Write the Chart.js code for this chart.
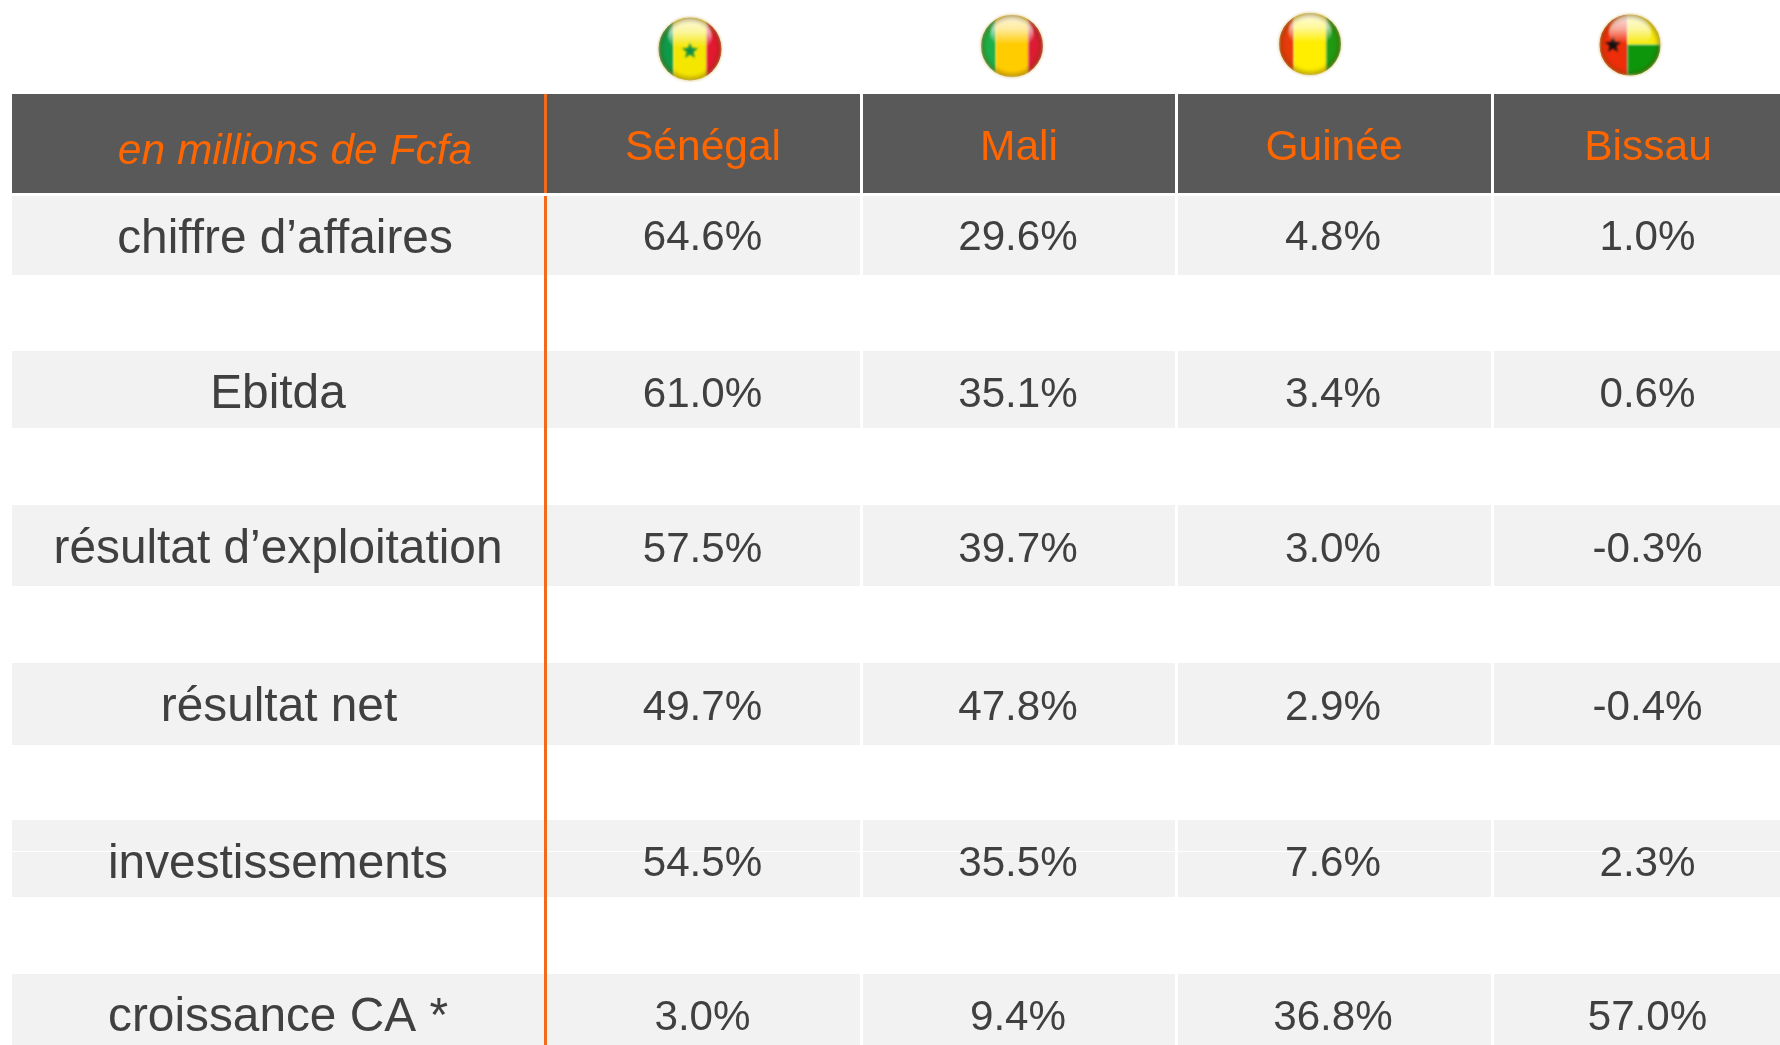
<!DOCTYPE html>
<html lang="fr">
<head>
<meta charset="utf-8">
<title>Répartition par pays</title>
<style>html,body{margin:0;padding:0;background:#fff}canvas{display:block}</style>
<script src="https://cdn.jsdelivr.net/npm/chart.js@4"></script>
</head>
<body>
<canvas id="c" width="1780" height="1045"></canvas>
<script>
// ---------- data ----------
const unitLabel = "en millions de Fcfa";
const countries = ["Sénégal", "Mali", "Guinée", "Bissau"];
const categories = ["chiffre d’affaires", "Ebitda", "résultat d’exploitation", "résultat net", "investissements", "croissance CA *"];
const senegal = ["64.6%", "61.0%", "57.5%", "49.7%", "54.5%", "3.0%"];
const mali    = ["29.6%", "35.1%", "39.7%", "47.8%", "35.5%", "9.4%"];
const guinee  = ["4.8%",  "3.4%",  "3.0%",  "2.9%",  "7.6%",  "36.8%"];
const bissau  = ["1.0%",  "0.6%",  "-0.3%", "-0.4%", "2.3%",  "57.0%"];
const seriesValues = [senegal, mali, guinee, bissau];

// ---------- table layout, in scale units ----------
const colSpans = [[12,545],[547,860],[863,1175],[1178,1491],[1494,1780]];
const headerSpan = [94,193];
const rowSpans = [[196,275],[351,428],[505,586],[663,745],[820,897],[974,1045]];
const ruleX = [544,547];
const rowSplitY = 851.5;
const headTextX = [703,1019,1334,1648];
const colTextX = [702.5,1018,1333,1647.5];
const labelTextX = [285,278,278,279,278,278];
const headerBaselines = {unit:164, country:160};
const valueBaselines = [250,407,562,720,876,1030];
const labelBaselines = [253,408,563,721,878,1031];
const flagX = [690,1012,1310,1630];
const flagY = [49,46,44,45];

const C = {head:"#595959", cell:"#f2f2f2", rule:"#f26b1d", orange:"#ff6600", text:"#404040"};
const FONT = '"Liberation Sans", Arial, sans-serif';

// ---------- flags as point images ----------
function flagImage(R, paint){
  const S=80, cv=document.createElement("canvas"); cv.width=S; cv.height=S;
  const g=cv.getContext("2d"), m=S/2;
  g.filter="blur(1px)";
  g.save();
  g.beginPath(); g.arc(m,m,R,0,Math.PI*2); g.clip();
  paint(g,m-R,m-R,2*R);
  // gloss
  let gl=g.createLinearGradient(0,m-R,0,m-R*0.05);
  gl.addColorStop(0,"rgba(255,255,255,.9)"); gl.addColorStop(.5,"rgba(255,255,255,.6)"); gl.addColorStop(1,"rgba(255,255,255,0)");
  g.fillStyle=gl; g.beginPath(); g.ellipse(m,m-R*0.42,R*0.7,R*0.58,0,0,Math.PI*2); g.fill();
  // edge shade
  let e=g.createRadialGradient(m,m,R*0.8,m,m,R);
  e.addColorStop(0,"rgba(90,60,0,0)"); e.addColorStop(1,"rgba(90,60,0,.38)");
  g.fillStyle=e; g.fillRect(0,0,S,S);
  g.restore();
  g.strokeStyle="rgba(205,175,80,.65)"; g.lineWidth=1.4; g.beginPath(); g.arc(m,m,R,0,Math.PI*2); g.stroke();
  return cv;
}
function stripes(cols){
  const cuts=[0,.235,.765,1];
  return (g,x,y,w)=>{ cols.forEach((c,i)=>{ g.fillStyle=c; g.fillRect(x+w*cuts[i],y,w*(cuts[i+1]-cuts[i])+.5,w); }); };
}
function star(g,cx,cy,r,col){
  g.fillStyle=col; g.beginPath();
  for(let i=0;i<10;i++){ const a=-Math.PI/2+i*Math.PI/5, q=i%2?r*0.42:r; g.lineTo(cx+q*Math.cos(a),cy+q*Math.sin(a)); }
  g.closePath(); g.fill();
}
const flags = [
  flagImage(31.5,(g,x,y,w)=>{ stripes(["#0d9b4a","#f5e600","#e2192f"])(g,x,y,w); star(g,x+w/2,y+w/2+2,8.5,"#0f8f45"); }),
  flagImage(31,stripes(["#1bb04a","#ffcc00","#dc1c33"])),
  flagImage(31,stripes(["#e83a0c","#ffee00","#1f9a12"])),
  flagImage(30.5,(g,x,y,w)=>{
    g.fillStyle="#ee2d0a"; g.fillRect(x,y,w*.46,w);
    g.fillStyle="#f6ea10"; g.fillRect(x+w*.46,y,w*.54,w/2);
    g.fillStyle="#0d960c"; g.fillRect(x+w*.46,y+w/2,w*.54,w/2);
    star(g,x+w*0.22,y+w*0.5,8.5,"#161010");
  })
];

// ---------- datasets ----------
function barSet(data, thickness, color, order){
  return {
    type:"bar", indexAxis:"y", grouped:false, inflateAmount:0, borderWidth:0,
    backgroundColor:color, barThickness:thickness, order, data
  };
}
function rowBars(span, color){
  return barSet(colSpans.map(c=>({x:c, y:(span[0]+span[1])/2})), span[1]-span[0], color, 3);
}
const datasets = [rowBars(headerSpan,C.head)].concat(rowSpans.map(s=>rowBars(s,C.cell)));
datasets.push(barSet(colSpans.map(c=>({x:c, y:rowSplitY})), 1, "#ffffff", 2));
[[headerSpan[0],headerSpan[1]],[rowSpans[0][0],1045]].forEach(s=>{
  datasets.push(barSet([{x:ruleX, y:(s[0]+s[1])/2}], s[1]-s[0], C.rule, 1));
});
datasets.push({
  type:"scatter", showLine:false, pointRadius:30, pointHoverRadius:30, order:0,
  pointStyle:flags, data:flagX.map((x,i)=>({x, y:flagY[i]}))
});

// ---------- text ----------
const tableText = {
  id:"tableText",
  afterDatasetsDraw(chart){
    const {ctx, scales:{x,y}} = chart;
    const put=(t,px,py,font,col)=>{
      ctx.font=font; ctx.fillStyle=col; ctx.textAlign="center"; ctx.textBaseline="alphabetic";
      ctx.fillText(t, x.getPixelForValue(px), y.getPixelForValue(py));
    };
    ctx.save();
    put(unitLabel, 295, headerBaselines.unit, `italic 42.5px ${FONT}`, C.orange);
    countries.forEach((c,i)=>put(c, headTextX[i], headerBaselines.country, `42.5px ${FONT}`, C.orange));
    categories.forEach((c,r)=>{
      put(c, labelTextX[r], labelBaselines[r], `47.8px ${FONT}`, C.text);
      seriesValues.forEach((s,i)=>put(s[r], colTextX[i], valueBaselines[r], `42.2px ${FONT}`, C.text));
    });
    ctx.restore();
  }
};

new Chart(document.getElementById("c"), {
  type:"bar",
  data:{datasets},
  plugins:[tableText],
  options:{
    responsive:false, animation:false, maintainAspectRatio:false,
    layout:{padding:0, autoPadding:false},
    plugins:{legend:{display:false}, tooltip:{enabled:false}, title:{display:false}},
    events:[],
    scales:{
      x:{type:"linear", min:0, max:1780, display:false, offset:false, grid:{offset:false}},
      y:{type:"linear", min:0, max:1045, reverse:true, display:false, offset:false, grid:{offset:false}}
    }
  }
});
</script>
</body>
</html>
